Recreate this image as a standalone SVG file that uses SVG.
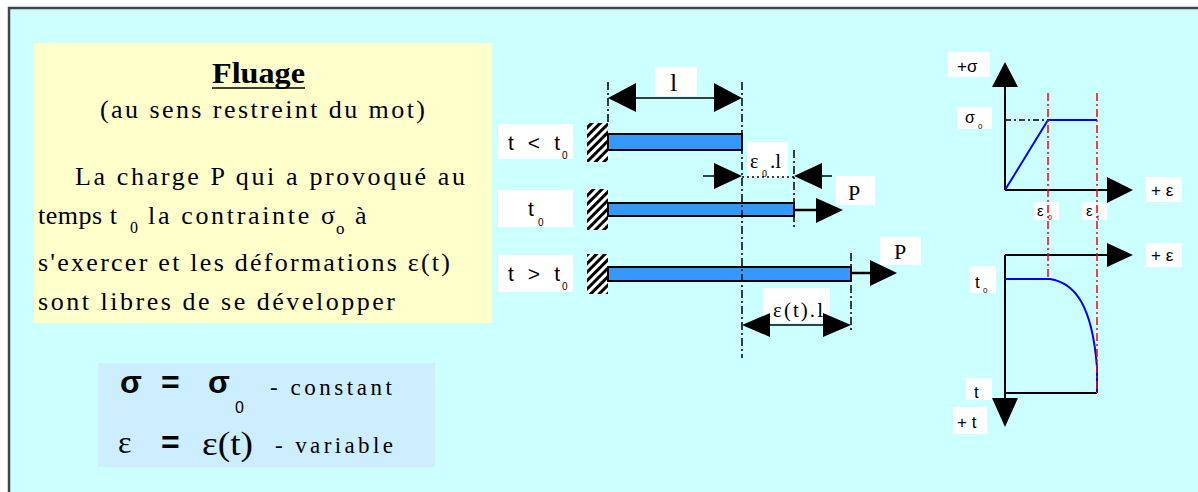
<svg xmlns="http://www.w3.org/2000/svg" width="1198" height="492" viewBox="0 0 1198 492">
<defs>
<style>
.serif{font-family:"Liberation Serif","DejaVu Serif","Times New Roman",serif;fill:#000}
.sans{font-family:"Liberation Sans","DejaVu Sans",Arial,sans-serif;fill:#000}
.lbl{fill:#fff}
.bar{fill:#3399ff;stroke:#000;stroke-width:2}
.dim{stroke:#000;stroke-width:1.5;fill:none}
.ext{stroke:#000;stroke-width:1.5;stroke-dasharray:8 3 2 3;fill:none}
.red{stroke:#ff0000;stroke-width:1.5;stroke-dasharray:8 3 2 3;fill:none}
.axis{stroke:#000;stroke-width:2;fill:none}
.curve{stroke:#0000ff;stroke-width:2;fill:none}
.head{fill:#000}
</style>
<pattern id="hatch" width="6" height="6" patternUnits="userSpaceOnUse" patternTransform="rotate(45)">
<rect width="6" height="6" fill="#fff"/>
<rect width="3" height="6" fill="#000"/>
</pattern>
</defs>
<rect width="1198" height="492" fill="#fff"/>
<rect x="9" y="8" width="1189" height="484" fill="#ccffff"/>
<path d="M9 492 V8 H1198" stroke="#444" stroke-width="2.5" fill="none"/>

<g id="text-box">
<rect x="34" y="43" width="458" height="280" fill="#ffffcc"/>
<text class="serif" x="212" y="83" font-size="30" font-weight="bold" textLength="93" lengthAdjust="spacingAndGlyphs">Fluage</text>
<line x1="212" y1="88" x2="305" y2="88" stroke="#000" stroke-width="1.5"/>
<text class="serif" x="100" y="118" font-size="26" textLength="325" lengthAdjust="spacing">(au sens restreint du mot)</text>
<text class="serif" x="75" y="185" font-size="26" textLength="390" lengthAdjust="spacing">La charge P qui a provoqué au</text>
<text class="serif" x="38" y="224" font-size="26" textLength="79" lengthAdjust="spacing">temps t</text>
<text class="serif" x="130" y="233" font-size="16">0</text>
<text class="serif" x="148" y="224" font-size="26" textLength="187" lengthAdjust="spacing">la contrainte σ</text>
<text class="serif" x="336" y="234" font-size="17">o</text>
<text class="serif" x="355" y="224" font-size="26">à</text>
<text class="serif" x="38" y="271" font-size="26" textLength="412" lengthAdjust="spacing">s'exercer et les déformations ε(t)</text>
<text class="serif" x="38" y="310" font-size="26" textLength="357" lengthAdjust="spacing">sont libres de se développer</text>
</g>

<g id="formula-box">
<rect x="98" y="363" width="337" height="104" fill="#cceeff"/>
<text class="sans" x="120" y="393" font-size="32" font-weight="bold">σ</text>
<text class="sans" x="161" y="393" font-size="32" font-weight="bold">=</text>
<text class="sans" x="208" y="393" font-size="32" font-weight="bold">σ</text>
<text class="sans" x="235" y="413" font-size="16">0</text>
<text class="serif" x="270" y="395" font-size="23" textLength="122" lengthAdjust="spacing">- constant</text>
<text class="serif" x="118" y="453" font-size="32">ε</text>
<text class="sans" x="161" y="453" font-size="32" font-weight="bold">=</text>
<text class="serif" x="202" y="455" font-size="33" textLength="51" lengthAdjust="spacingAndGlyphs">ε(t)</text>
<text class="serif" x="275" y="453" font-size="23" textLength="118" lengthAdjust="spacing">- variable</text>
</g>

<g id="bar-before">
<rect class="lbl" x="498" y="124" width="75" height="35"/>
<text class="sans" x="508" y="150" font-size="21" textLength="52" lengthAdjust="spacing">t &lt; t</text>
<text class="sans" x="562" y="159" font-size="10">0</text>
<rect x="587" y="123" width="21" height="39" fill="url(#hatch)"/>
<rect class="bar" x="608" y="134" width="134" height="16"/>
</g>

<g id="bar-t0">
<rect class="lbl" x="498" y="190" width="75" height="37"/>
<text class="sans" x="528" y="216" font-size="21">t</text>
<text class="sans" x="538" y="226" font-size="10">0</text>
<rect x="587" y="189" width="21" height="41" fill="url(#hatch)"/>
<rect class="bar" x="608" y="203" width="186" height="13"/>
</g>

<g id="bar-after">
<rect class="lbl" x="498" y="255" width="75" height="37"/>
<text class="sans" x="508" y="281" font-size="21" textLength="52" lengthAdjust="spacing">t &gt; t</text>
<text class="sans" x="562" y="290" font-size="10">0</text>
<rect x="587" y="254" width="21" height="40" fill="url(#hatch)"/>
<rect class="bar" x="608" y="267" width="243" height="14"/>
</g>

<g id="load-labels">
<rect class="lbl" x="836" y="176" width="39" height="29"/>
<text class="serif" x="848" y="200" font-size="22">P</text>
<rect class="lbl" x="880" y="237" width="41" height="28"/>
<text class="serif" x="894" y="259" font-size="22">P</text>
</g>

<g id="dimension-labels">
<rect class="lbl" x="655" y="67" width="42" height="29"/>
<text class="serif" x="670" y="91" font-size="26">l</text>
<rect class="lbl" x="747" y="142" width="41" height="36"/>
<text class="serif" x="750" y="168" font-size="20">ε</text>
<text class="serif" x="762" y="177" font-size="10">0</text>
<text class="serif" x="770" y="168" font-size="21">.l</text>
<rect class="lbl" x="763" y="288" width="67" height="35"/>
<text class="serif" x="773" y="317" font-size="21" textLength="50" lengthAdjust="spacing">ε(t).l</text>
</g>

<g id="connectors">
<line class="ext" x1="608" y1="82" x2="608" y2="123"/>
<line class="ext" x1="742" y1="82" x2="742" y2="358"/>
<line class="ext" x1="794" y1="150" x2="794" y2="227"/>
<line class="ext" x1="851" y1="253" x2="851" y2="332"/>
<line class="dim" x1="630" y1="98" x2="720" y2="98"/>
<path class="head" d="M608 98 L636 83 L636 112 Z"/>
<path class="head" d="M742 98 L714 83 L714 112 Z"/>
<line class="dim" x1="703" y1="176" x2="720" y2="176"/>
<path class="head" d="M742 176 L714 163 L714 189 Z"/>
<line x1="742" y1="177" x2="794" y2="177" stroke="#000" stroke-width="1.5" stroke-dasharray="2 3"/>
<line class="dim" x1="815" y1="176" x2="832" y2="176"/>
<path class="head" d="M794 176 L822 163 L822 189 Z"/>
<line class="dim" x1="760" y1="325" x2="830" y2="325"/>
<path class="head" d="M742 325 L770 313 L770 337 Z"/>
<path class="head" d="M851 325 L823 313 L823 337 Z"/>
<line x1="794" y1="210" x2="820" y2="210" stroke="#000" stroke-width="2.5"/>
<path class="head" d="M843 210 L816 198 L816 223 Z"/>
<line x1="851" y1="273" x2="872" y2="273" stroke="#000" stroke-width="2.5"/>
<path class="head" d="M897 273 L870 260 L870 286 Z"/>
</g>

<g id="graph-stress">
<rect class="lbl" x="948" y="52" width="42" height="25"/>
<text class="sans" x="957" y="72" font-size="17">+σ</text>
<rect class="lbl" x="1146" y="177" width="36" height="25"/>
<text class="sans" x="1151" y="196" font-size="17">+ ε</text>
<rect class="lbl" x="957" y="107" width="35" height="22"/>
<text class="sans" x="965" y="123" font-size="16">σ</text>
<text class="sans" x="978" y="129" font-size="8">0</text>
<rect class="lbl" x="1033" y="202" width="26" height="18"/>
<text class="sans" x="1037" y="216" font-size="15">ε</text>
<text class="sans" x="1048" y="220" font-size="7">0</text>
<rect class="lbl" x="1082" y="202" width="25" height="18"/>
<text class="sans" x="1086" y="216" font-size="15">ε</text>
<text class="sans" x="1097" y="220" font-size="7">t</text>
<line class="axis" x1="1005" y1="190" x2="1005" y2="85"/>
<path class="head" d="M1005 62 L992 87 L1018 87 Z"/>
<line class="axis" x1="1005" y1="190" x2="1110" y2="190"/>
<path class="head" d="M1133 190 L1107 177 L1107 203 Z"/>
<line x1="1005" y1="120" x2="1048" y2="120" stroke="#000" stroke-width="1.5" stroke-dasharray="6 3 2 3"/>
<path class="curve" d="M1005 190 L1048 120 L1097 120"/>
</g>

<g id="graph-time">
<rect class="lbl" x="1146" y="243" width="36" height="24"/>
<text class="sans" x="1151" y="261" font-size="17">+ ε</text>
<rect class="lbl" x="970" y="266" width="26" height="27"/>
<text class="sans" x="975" y="288" font-size="17">t</text>
<text class="sans" x="983" y="293" font-size="8">0</text>
<rect class="lbl" x="966" y="378" width="26" height="22"/>
<text class="sans" x="974" y="398" font-size="17">t</text>
<rect class="lbl" x="953" y="407" width="34" height="27"/>
<text class="sans" x="957" y="428" font-size="17">+ t</text>
<line class="axis" x1="1005" y1="255" x2="1110" y2="255"/>
<path class="head" d="M1133 255 L1107 243 L1107 267 Z"/>
<line class="axis" x1="1005" y1="255" x2="1005" y2="400"/>
<path class="head" d="M1005 427 L992 398 L1018 398 Z"/>
<line class="axis" x1="1005" y1="393" x2="1097" y2="393"/>
<path class="curve" d="M1005 279 L1050 279 C1075 283 1092 305 1097 367 L1097 393"/>
</g>

<g id="red-guides">
<line class="red" x1="1048" y1="93" x2="1048" y2="278"/>
<line class="red" x1="1097" y1="93" x2="1097" y2="393"/>
</g>
</svg>
